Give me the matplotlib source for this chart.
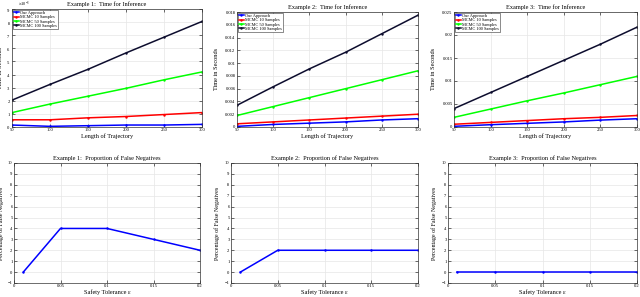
import numpy as np
import matplotlib
matplotlib.use('Agg')
import matplotlib.pyplot as plt
from matplotlib.ticker import ScalarFormatter, FuncFormatter

plt.rcParams['font.family'] = ['Liberation Serif', 'DejaVu Serif']
plt.rcParams['mathtext.fontset'] = 'stix'

# trajectory lengths for the inference-time plots
traj_len = [50, 100, 150, 200, 250, 300]
series_names = ['Our Approach', 'MCMC 10 Samples', 'MCMC 50 Samples', 'MCMC 100 Samples']
series_colors = ['#0000ff', '#ff0000', '#00ff00', '#0d0d2e']

# example 1 (seconds)
ex1_ours = [0.00015, 0.00005, 0.0001, 0.00015, 0.00015, 0.0002]
ex1_mc10 = [0.00055, 0.00055, 0.0007, 0.0008, 0.00095, 0.0011]
ex1_mc50 = [0.0011, 0.00175, 0.00235, 0.00295, 0.0036, 0.0042]
ex1_mc100 = [0.00205, 0.00325, 0.0044, 0.00565, 0.00685, 0.00805]

# example 2
ex2_ours = [0.0001, 0.0004, 0.0006, 0.0008, 0.0011, 0.0013]
ex2_mc10 = [0.0005, 0.0008, 0.0011, 0.0014, 0.0017, 0.002]
ex2_mc50 = [0.0018, 0.0032, 0.0046, 0.006, 0.0074, 0.0088]
ex2_mc100 = [0.0034, 0.0063, 0.0091, 0.0117, 0.0146, 0.0175]

# example 3
ex3_ours = [0.00015, 0.0005, 0.0008, 0.0011, 0.0015, 0.0018]
ex3_mc10 = [0.0006, 0.001, 0.0014, 0.0018, 0.0021, 0.0025]
ex3_mc50 = [0.0021, 0.0039, 0.0057, 0.0074, 0.0092, 0.011]
ex3_mc100 = [0.004, 0.0075, 0.011, 0.0145, 0.018, 0.0217]

# false negatives vs safety tolerance
tolerance = [0.01, 0.05, 0.1, 0.15, 0.2]
fn_ex1 = [0, 4, 4, 3, 2]
fn_ex2 = [0, 2, 2, 2, 2]
fn_ex3 = [0, 0, 0, 0, 0]

W, H = 640, 297
fig = plt.figure(figsize=(6.4, 2.97), dpi=100)

def box(l, t, r, b):
    return [l / W, 1 - b / H, (r - l) / W, (b - t) / H]

def style(ax):
    ax.grid(True, color='#e6e6e6', linewidth=0.5)
    ax.set_axisbelow(True)
    ax.tick_params(direction='in', labelsize=3.3, length=2, width=0.4, pad=1,
                   top=True, right=True)
    for s in ax.spines.values():
        s.set_linewidth(0.5)
        s.set_color('#333333')

def num_fmt(v, pos):
    return ('%g' % round(v, 6))

top_boxes = [box(12, 9, 202, 127), box(237, 12, 418, 127), box(454, 12, 637, 127)]
top_ylab_x = [3.5, 219, 436]
top_data = [
    (ex1_ours, ex1_mc10, ex1_mc50, ex1_mc100),
    (ex2_ours, ex2_mc10, ex2_mc50, ex2_mc100),
    (ex3_ours, ex3_mc10, ex3_mc50, ex3_mc100),
]
top_ylim = [(0, 0.009, 0.001), (0, 0.018, 0.002), (0, 0.025, 0.005)]

for i in range(3):
    ax = fig.add_axes(top_boxes[i])
    for vals, name, c in zip(top_data[i], series_names, series_colors):
        ax.plot(traj_len, vals, color=c, lw=1.1, marker='.', ms=1.5, label=name)
    ax.set_xlim(50, 300)
    lo, hi, step = top_ylim[i]
    ax.set_ylim(lo, hi)
    ax.set_yticks(np.arange(lo, hi + step / 2, step))
    ax.set_xticks(traj_len)
    if i == 0:
        f = ScalarFormatter(useMathText=True)
        f.set_powerlimits((-3, -3))
        ax.yaxis.set_major_formatter(f)
        ax.yaxis.get_offset_text().set_fontsize(3.1)
        ax.yaxis.get_offset_text().set_x(0.03)
    else:
        ax.yaxis.set_major_formatter(FuncFormatter(num_fmt))
    style(ax)
    ax.set_title('Example %d:  Time for Inference' % (i + 1), fontsize=4.5, pad=2)
    ax.set_xlabel('Length of Trajectory', fontsize=4.5, labelpad=1)
    ax.set_ylabel('Time in Seconds', fontsize=4.5)
    l = top_boxes[i][0] * W
    ax.yaxis.set_label_coords((top_ylab_x[i] - l) / (top_boxes[i][2] * W), 0.5)
    leg = ax.legend(loc='upper left', fontsize=3.2, handlelength=1.2,
                    handletextpad=0.3, borderpad=0.2, labelspacing=0.05,
                    fancybox=False, edgecolor='#333333', framealpha=1,
                    borderaxespad=0.2)
    leg.get_frame().set_linewidth(0.4)

bottom_boxes = [box(14, 163, 200, 283), box(231, 163, 418, 283), box(448, 163, 637, 283)]
bottom_ylab_x = [4.5, 220, 437]
fn_data = [fn_ex1, fn_ex2, fn_ex3]

for i in range(3):
    ax = fig.add_axes(bottom_boxes[i])
    ax.plot(tolerance, fn_data[i], color='#0000ff', lw=1.1, marker='.', ms=1.5)
    ax.set_xlim(0, 0.2)
    ax.set_ylim(-1, 10)
    ax.set_yticks(range(-1, 11))
    ax.set_xticks([0, 0.05, 0.1, 0.15, 0.2])
    ax.xaxis.set_major_formatter(FuncFormatter(num_fmt))
    style(ax)
    ax.set_title('Example %d:  Proportion of False Negatives' % (i + 1), fontsize=4.5, pad=2)
    ax.set_xlabel('Safety Tolerance ε', fontsize=4.5, labelpad=0.5)
    ax.set_ylabel('Percentage of False Negatives', fontsize=4.3)
    l = bottom_boxes[i][0] * W
    ax.yaxis.set_label_coords((bottom_ylab_x[i] - l) / (bottom_boxes[i][2] * W), 0.5)

fig.savefig('out.png', dpi=100)
